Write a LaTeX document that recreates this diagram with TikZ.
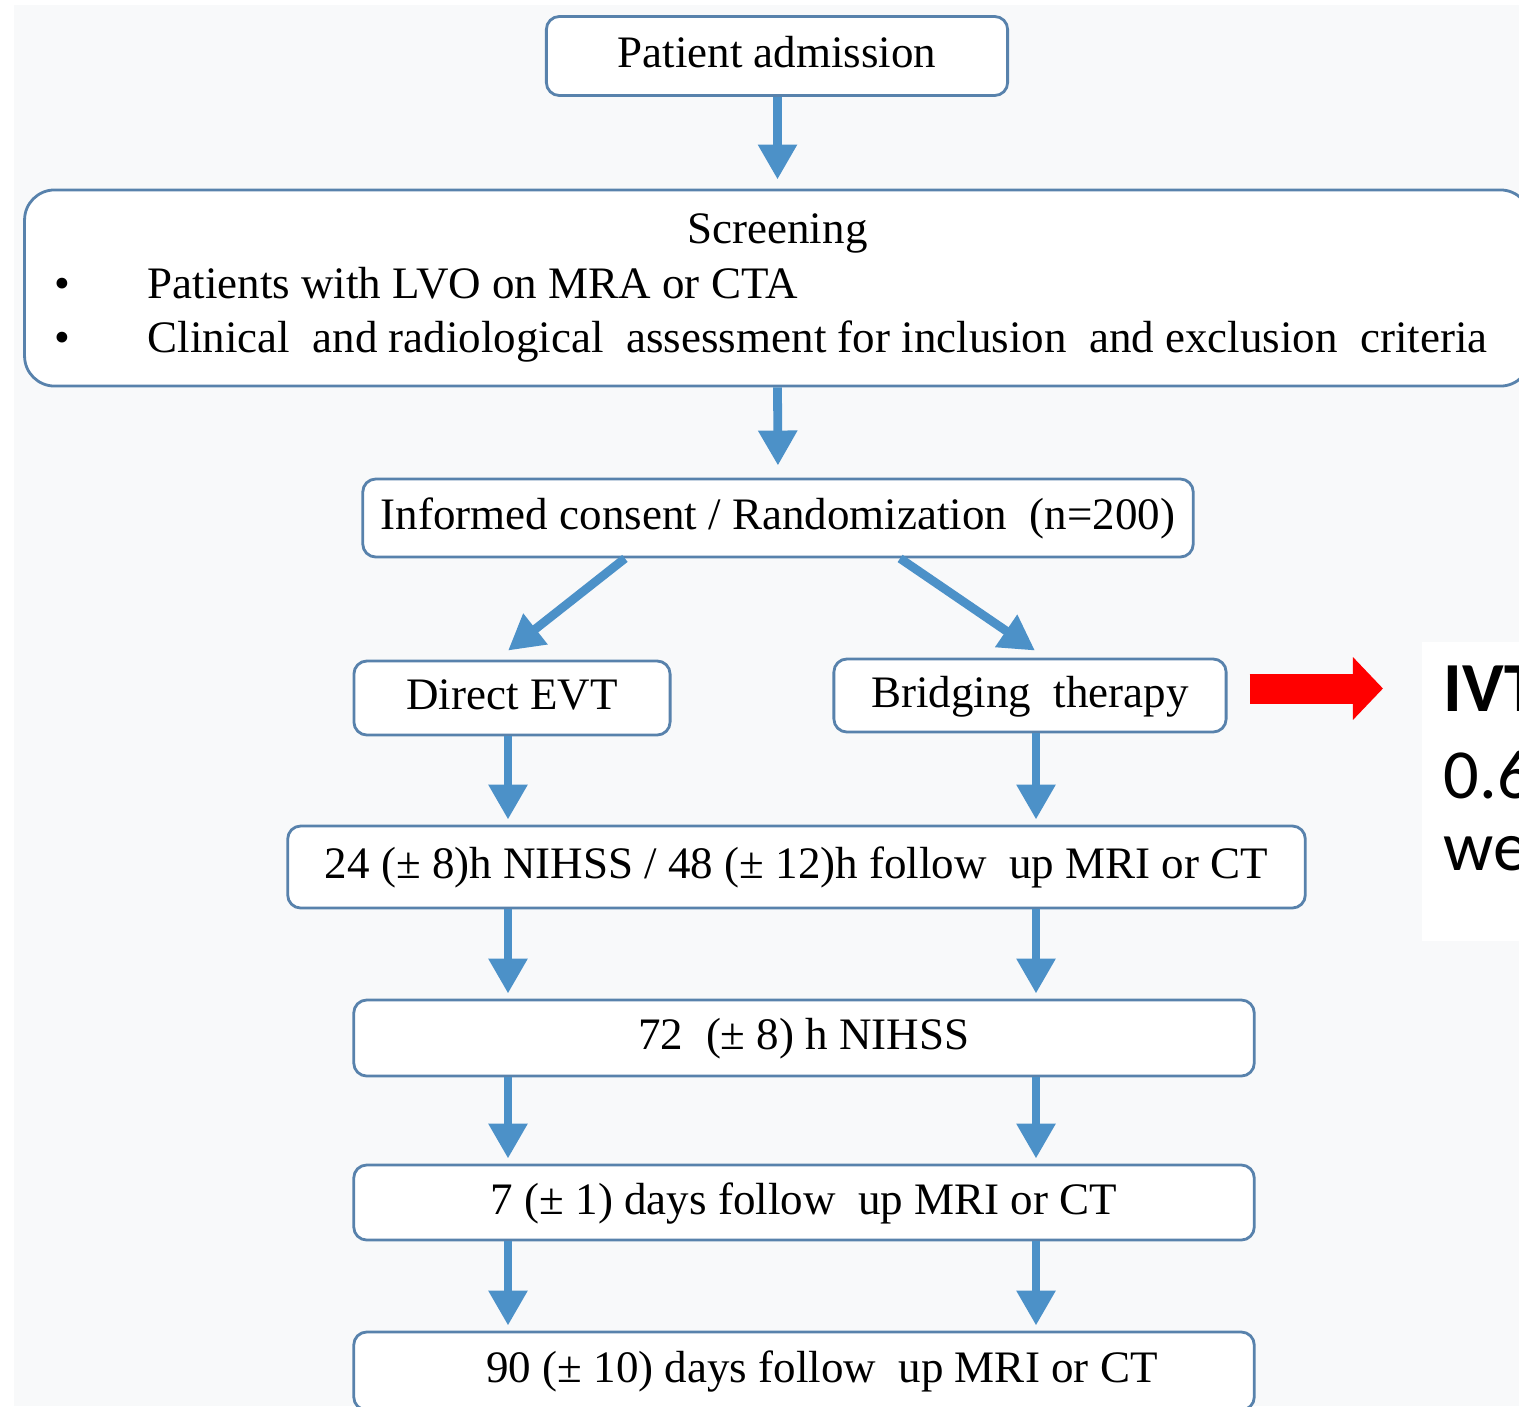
\documentclass[tikz,border=0pt]{standalone}
\usepackage{fontspec}
\setmainfont{Liberation Serif}
\newfontfamily\ivtfont{Carlito}
\usetikzlibrary{arrows.meta}
\definecolor{boxline}{RGB}{88,130,172}
\definecolor{flowblue}{RGB}{76,145,200}
\definecolor{paper}{RGB}{248,249,250}

\begin{document}
\begin{tikzpicture}[x=0.01cm,y=-0.01cm,
	box/.style={draw=boxline,line width=0.8pt,fill=white,rounded corners=0.13cm,inner sep=0pt,font=\fontsize{12.8}{15.5}\selectfont},
	single/.style={box,text height=0.66em,text depth=0pt},
	flow/.style={draw=flowblue,line width=2.5pt,shorten >=0.05cm,-{Triangle[width=0.37cm,length=0.35cm]}},
	redarrow/.style={draw=red,line width=0.3cm,-{Triangle[width=0.61cm,length=0.3cm]}}]
	\useasboundingbox (0,0) rectangle (1519,1406);
	\clip (0,0) rectangle (1519,1406);
	\fill[white] (0,0) rectangle (1519,1406);
	\fill[paper] (14,5) rectangle (1519,1406);
	
	% main column
	\node[single,minimum width=4.61cm,minimum height=0.79cm] (adm) at (777,56) {Patient admission};
	\node[box,rounded corners=0.3cm,minimum width=15.05cm,minimum height=1.96cm,align=center] (scr) at (777.5,288) {Screening\\
		\makebox[14.45cm][l]{\makebox[0.93cm][l]{\textbullet}Patients with LVO on MRA or CTA}\\
		\makebox[14.45cm][l]{\makebox[0.93cm][l]{\textbullet}Clinical\ \ and radiological\ \ assessment for inclusion\ \ and exclusion\ \ criteria}};
	\node[single,minimum width=8.30cm,minimum height=0.78cm] (ic) at (778,518) {Informed consent / Randomization\ \ (n=200)};
	
	% two arms
	\node[single,minimum width=3.16cm,minimum height=0.74cm] (evt) at (512,698) {Direct EVT};
	\node[single,minimum width=3.92cm,minimum height=0.73cm] (bri) at (1030,695.5) {Bridging\ \ therapy};
	\coordinate (lcol) at (508,0);
	\coordinate (rcol) at (1036,0);
	
	% follow up
	\node[single,minimum width=10.17cm,minimum height=0.82cm] (fu24) at (796.5,867) {24 (± 8)h NIHSS / 48 (± 12)h follow\ \ up MRI or CT};
	\node[single,minimum width=9.00cm,minimum height=0.76cm] (n72) at (804,1038) {72\ \ (± 8) h NIHSS\hspace{0.4cm}};
	\node[single,minimum width=9.00cm,minimum height=0.75cm] (d7) at (804,1202.5) {7 (± 1) days follow\ \ up MRI or CT\hspace{0.46cm}};
	\node[single,minimum width=9.00cm,minimum height=0.78cm] (d90) at (804,1371) {\hspace{0.36cm}90 (± 10) days follow\ \ up MRI or CT};
	
	% IVT note
	\node[fill=white,anchor=north west,inner sep=0pt,minimum width=1.3cm,minimum height=2.99cm] (ivt) at (1421,641) {};
	\node[anchor=north west,align=left,inner sep=0pt,font=\ivtfont\fontsize{20}{19.5}\selectfont] (ivttxt) at ([xshift=0.22cm,yshift=-0.24cm]ivt.north west) {\textbf{IVT}\\[5.2pt]0.6\\[1pt]we};
	
	\draw[flow,shorten >=0.09cm] (adm.south -| scr.north) -- (scr.north);
	\draw[flow,shorten >=0.12cm] (scr.south) -- (ic.north);
	\draw[flow,shorten >=0pt] ([xshift=-1.53cm]ic.south) -- ([xshift=-0.04cm,yshift=0.09cm]evt.north);
	\draw[flow,shorten >=0pt] ([xshift=1.22cm]ic.south) -- ([xshift=0.05cm,yshift=0.07cm]bri.north);
	\draw[flow] (evt.south -| lcol) -- (fu24.north -| lcol);
	\draw[flow] (bri.south -| rcol) -- (fu24.north -| rcol);
	\draw[flow] (fu24.south -| lcol) -- (n72.north -| lcol);
	\draw[flow] (fu24.south -| rcol) -- (n72.north -| rcol);
	\draw[flow] (n72.south -| lcol) -- (d7.north -| lcol);
	\draw[flow] (n72.south -| rcol) -- (d7.north -| rcol);
	\draw[flow] (d7.south -| lcol) -- (d90.north -| lcol);
	\draw[flow] (d7.south -| rcol) -- (d90.north -| rcol);
	
	\draw[redarrow,shorten <=0.22cm,shorten >=0.38cm] ([yshift=0.07cm]bri.east) -- ([yshift=0.07cm]bri.east -| ivt.west);
\end{tikzpicture}
\end{document}
